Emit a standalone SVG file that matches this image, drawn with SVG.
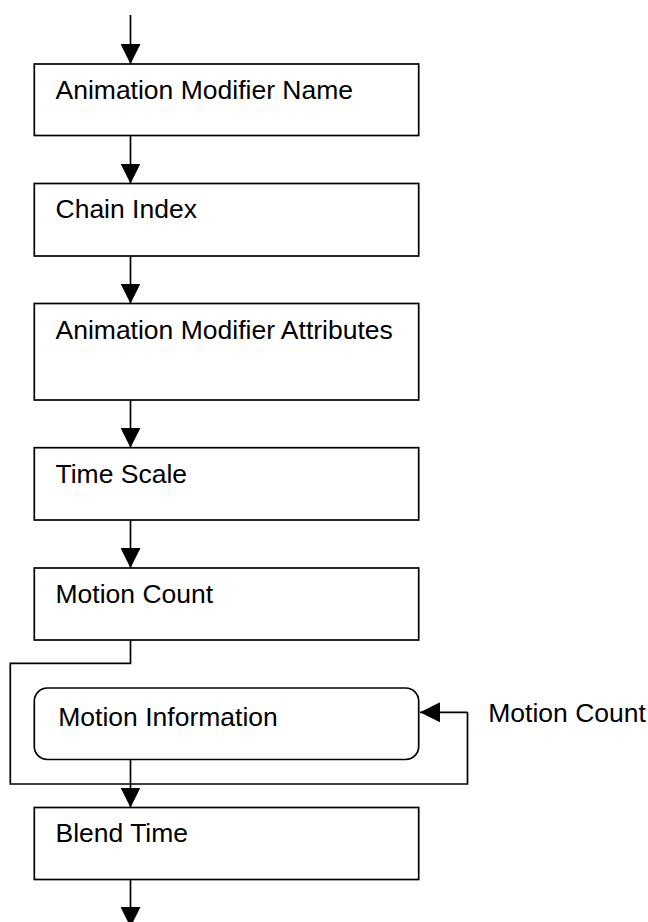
<svg xmlns="http://www.w3.org/2000/svg" width="648" height="922" viewBox="0 0 648 922">
<defs>
<style>
.box{fill:#fff;stroke:#000;stroke-width:1.7}
.lbl{font-family:"Liberation Sans",Arial,sans-serif;font-size:26.5px;fill:#000}
.con{fill:none;stroke:#000;stroke-width:1.7}
</style>
<marker id="ah" markerUnits="userSpaceOnUse" markerWidth="20" markerHeight="20" viewBox="0 0 20 20" refX="20" refY="10" orient="auto">
<path d="M0,0 L20,10 L0,20 Z" fill="#000"/>
</marker>
</defs>
<g id="connectors">
<line class="con" x1="130.5" y1="15" x2="130.5" y2="64" marker-end="url(#ah)"/>
<line class="con" x1="130.5" y1="135.5" x2="130.5" y2="183.5" marker-end="url(#ah)"/>
<line class="con" x1="130.5" y1="256" x2="130.5" y2="303.5" marker-end="url(#ah)"/>
<line class="con" x1="130.5" y1="400" x2="130.5" y2="447.7" marker-end="url(#ah)"/>
<line class="con" x1="130.5" y1="520" x2="130.5" y2="568" marker-end="url(#ah)"/>
<polyline class="con" points="130.5,640 130.5,663.3 10.3,663.3 10.3,784 467.5,784 467.5,712.3"/>
<line class="con" x1="467.5" y1="712.3" x2="420" y2="712.3" marker-end="url(#ah)"/>
<line class="con" x1="130.5" y1="759.5" x2="130.5" y2="807.5" marker-end="url(#ah)"/>
<line class="con" x1="130.5" y1="879.5" x2="130.5" y2="927" marker-end="url(#ah)"/>
</g>
<g id="n1"><rect class="box" x="34.3" y="64" width="384.4" height="71.5"/><text class="lbl" x="55.5" y="98.5">Animation Modifier Name</text></g>
<g id="n2"><rect class="box" x="34.3" y="183.5" width="384.4" height="72.5"/><text class="lbl" x="55.5" y="218.3">Chain Index</text></g>
<g id="n3"><rect class="box" x="34.3" y="303.5" width="384.4" height="96.5"/><text class="lbl" x="55.5" y="339">Animation Modifier Attributes</text></g>
<g id="n4"><rect class="box" x="34.3" y="447.7" width="384.4" height="72.3"/><text class="lbl" x="55.5" y="482.5">Time Scale</text></g>
<g id="n5"><rect class="box" x="34.3" y="568" width="384.4" height="72"/><text class="lbl" x="55.5" y="602.7">Motion Count</text></g>
<g id="n6"><rect class="box" x="34.3" y="688" width="384.4" height="71.5" rx="13" ry="13"/><text class="lbl" x="58.3" y="725.7">Motion Information</text></g>
<g id="n7"><rect class="box" x="34.3" y="807.5" width="384.4" height="72"/><text class="lbl" x="55.5" y="842.3">Blend Time</text></g>
<g id="lbl-loop"><text class="lbl" x="488.3" y="721.7">Motion Count</text></g>
</svg>
